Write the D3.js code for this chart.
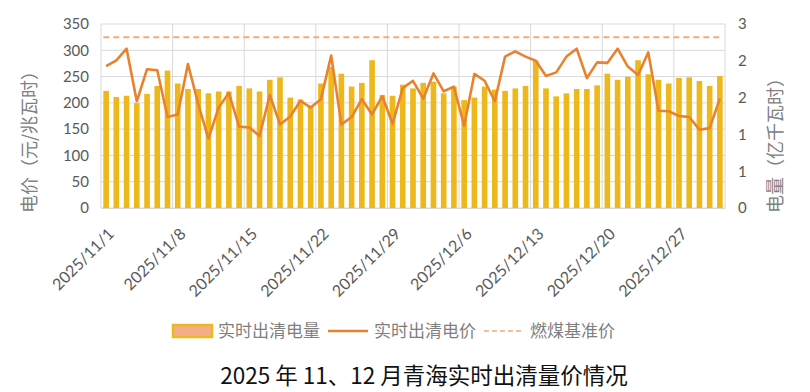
<!DOCTYPE html>
<html><head><meta charset="utf-8">
<script src="https://cdn.jsdelivr.net/npm/d3@7"></script>
<style>
html,body{margin:0;padding:0;background:#fff;}
svg{display:block;}
</style></head>
<body>
<svg id="chart" width="810" height="392"></svg>
<script>
// ---- data ----
const startDate = "2025-11-01";
const dayCount = 61;
// 实时出清电量 (亿千瓦时)
const volume = [1.91,1.81,1.83,1.71,1.86,1.99,2.24,2.03,1.94,1.94,
  1.87,1.90,1.90,1.99,1.95,1.90,2.09,2.13,1.80,1.77,
  1.67,2.03,2.30,2.19,1.98,2.04,2.41,1.84,1.83,2.01,
  1.95,2.04,2.06,1.87,1.98,1.76,1.80,1.98,1.93,1.91,
  1.95,1.99,2.40,1.95,1.82,1.87,1.94,1.94,2.00,2.19,
  2.09,2.14,2.41,2.18,2.09,2.03,2.12,2.13,2.07,1.99,2.15];
// 实时出清电价 (元/兆瓦时)
const price = [270,281,303,203,264,262,173,178,274,198,
  132,191,219,155,153,137,215,159,174,204,
  191,207,290,159,173,207,178,213,160,228,
  242,208,256,222,231,156,255,242,203,288,
  298,288,280,251,258,288,303,247,277,276,
  303,269,253,296,185,184,175,173,149,152,208];
const benchmark = 324.7; // 燃煤基准价
const leftTicks = [0,50,100,150,200,250,300,350];
const rightTicks = [0,0.6,1.2,1.8,2.4,3];
const labelEvery = 7;
const seriesNames = ["实时出清电量","实时出清电价","燃煤基准价"];
const title = "2025 年 11、12 月青海实时出清量价情况";
const leftTitle = "电价（元/兆瓦时）";
const rightTitle = "电量（亿千瓦时）";

// ---- build dates ----
const parse = d3.timeParse("%Y-%m-%d");
const d0 = parse(startDate);
const dates = d3.range(dayCount).map(i => d3.timeDay.offset(d0, i));
const fmtDate = d3.timeFormat("%Y/%-m/%-d");
const data = dates.map((d,i) => ({d, key: fmtDate(d), v: volume[i], p: price[i]}));

// ---- layout ----
const svg = d3.select("#chart");
const m = {l:101, t:24, r:85, b:184};
const W = 810 - m.l - m.r, H = 392 - m.t - m.b;
const g = svg.append("g").attr("transform", `translate(${m.l},${m.t})`);

const x = d3.scaleBand().domain(data.map(d=>d.key)).range([0,W])
  .paddingInner(0.45).paddingOuter(0.225);
const yL = d3.scaleLinear().domain([0,350]).range([H,0]);
const yR = d3.scaleLinear().domain([0,3]).range([H,0]);
const step = x.step();

const numFont = "Lato, 'Noto Sans', sans-serif";
const cjkFont = "'Noto Sans CJK SC', 'Noto Sans', sans-serif";

// gridlines horizontal
g.append("g").selectAll("line").data(leftTicks).join("line")
  .attr("x1",0).attr("x2",W)
  .attr("y1",d=>yL(d)).attr("y2",d=>yL(d))
  .attr("stroke","#d9d9d9").attr("stroke-width",1);
// vertical gridlines every 7 days
const vIdx = d3.range(0, dayCount+1, labelEvery).concat([dayCount]);
g.append("g").selectAll("line").data(vIdx).join("line")
  .attr("x1",i=> i<dayCount ? x(data[i].key) - step*x.paddingInner()/2 : W)
  .attr("x2",i=> i<dayCount ? x(data[i].key) - step*x.paddingInner()/2 : W)
  .attr("y1",0).attr("y2",H)
  .attr("stroke","#d9d9d9").attr("stroke-width",1);

// bars
g.append("g").selectAll("rect").data(data).join("rect")
  .attr("x",d=>x(d.key)).attr("width",x.bandwidth())
  .attr("y",d=>yR(d.v)).attr("height",d=>H-yR(d.v))
  .attr("fill","#EDB81C");

// benchmark dashed
g.append("line")
  .attr("x1",x(data[0].key)).attr("x2",x(data[dayCount-1].key)+x.bandwidth())
  .attr("y1",yL(benchmark)).attr("y2",yL(benchmark))
  .attr("stroke","#F2AC74").attr("stroke-width",2).attr("stroke-dasharray","6,4");

// price line
const line = d3.line().x(d=>x(d.key)+x.bandwidth()/2).y(d=>yL(d.p));
g.append("path").datum(data).attr("d",line)
  .attr("fill","none").attr("stroke","#E8822F").attr("stroke-width",2.6)
  .attr("stroke-linejoin","round");

// axes
const axL = d3.axisLeft(yL).tickValues(leftTicks).tickSize(0).tickPadding(12);
const gL = g.append("g").call(axL);
gL.select(".domain").remove();
gL.selectAll("text").attr("font-family",numFont).attr("font-size",15).attr("fill","#595959");

const axR = d3.axisRight(yR).tickValues(rightTicks).tickSize(0).tickPadding(13).tickFormat(d3.format(".0f"));
const gR = g.append("g").attr("transform",`translate(${W},0)`).call(axR);
gR.select(".domain").remove();
gR.selectAll("text").attr("font-family",numFont).attr("font-size",15).attr("fill","#595959");

const labelKeys = data.filter((d,i)=> i%labelEvery===0).map(d=>d.key);
const axB = d3.axisBottom(x).tickValues(labelKeys).tickSize(0).tickPadding(0);
const gB = g.append("g").attr("transform",`translate(0,${H})`).call(axB);
gB.select(".domain").attr("stroke","#d9d9d9");
gB.selectAll("text")
  .attr("font-family",numFont).attr("font-size",16).attr("fill","#595959")
  .attr("text-anchor","end").attr("dy",null).attr("y",0)
  .attr("transform","translate(9,27) rotate(-45)");

// axis titles
svg.append("text").attr("transform","translate(36,213) rotate(-90)")
  .attr("text-anchor","start").attr("font-family",cjkFont).attr("font-size",18)
  .attr("fill","#808080").text(leftTitle);
svg.append("text").attr("transform","translate(782,213) rotate(-90)")
  .attr("text-anchor","start").attr("font-family",cjkFont).attr("font-size",18)
  .attr("fill","#808080").text(rightTitle);

// legend
const lg = svg.append("g").attr("font-family",cjkFont).attr("font-size",17).attr("fill","#7f7f7f");
lg.append("rect").attr("x",173).attr("y",325).attr("width",39).attr("height",12)
  .attr("fill","#F4AE86").attr("stroke","#EDB81C").attr("stroke-width",2.5);
lg.append("text").attr("x",218).attr("y",337).text(seriesNames[0]);
lg.append("line").attr("x1",328).attr("x2",368).attr("y1",331).attr("y2",331)
  .attr("stroke","#E8822F").attr("stroke-width",2.6);
lg.append("text").attr("x",374).attr("y",337).text(seriesNames[1]);
lg.append("line").attr("x1",484).attr("x2",522).attr("y1",331).attr("y2",331)
  .attr("stroke","#F2AC74").attr("stroke-width",1.5).attr("stroke-dasharray","5,3");
lg.append("text").attr("x",530).attr("y",337).text(seriesNames[2]);

// title
svg.append("text").attr("x",424).attr("y",384).attr("text-anchor","middle")
  .attr("font-family",cjkFont).attr("font-size",22.5).attr("fill","#111").text(title);
</script>
</body></html>
